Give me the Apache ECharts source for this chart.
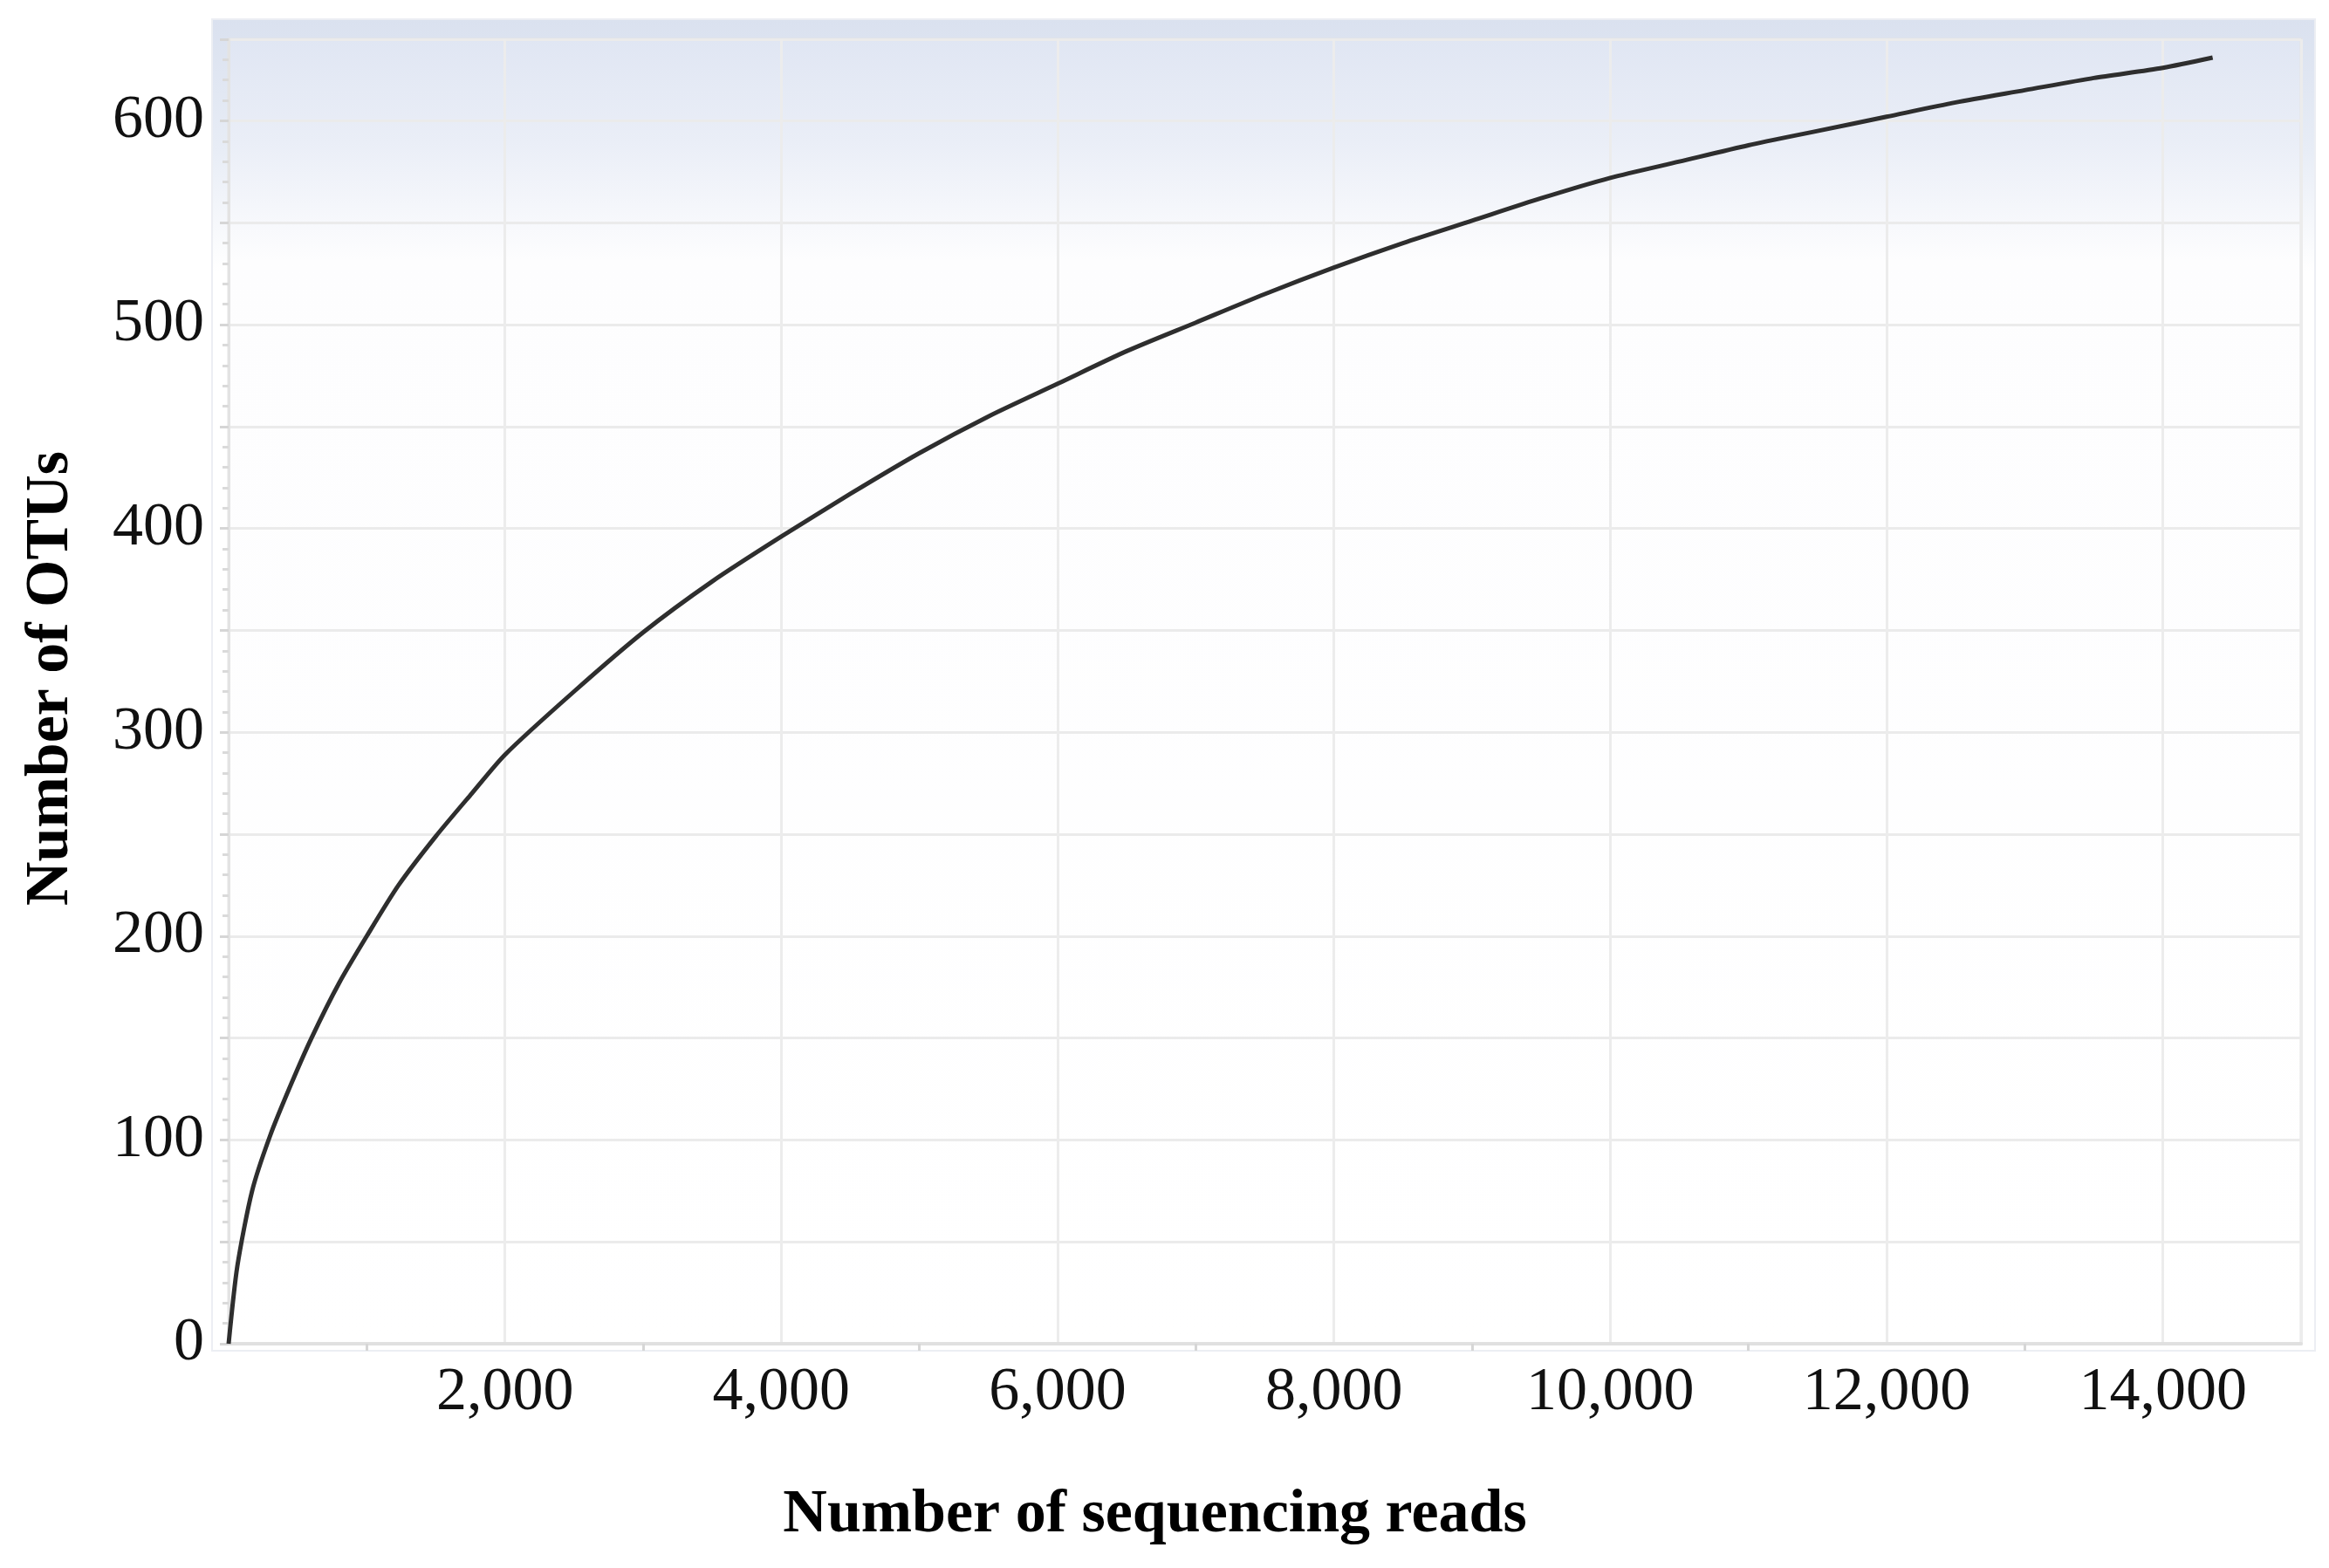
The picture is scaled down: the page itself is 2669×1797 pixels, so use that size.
<!DOCTYPE html>
<html>
<head>
<meta charset="utf-8">
<title>Rarefaction curve</title>
<script src="https://cdn.jsdelivr.net/npm/echarts@6/dist/echarts.min.js"></script>
<style>
  html, body { margin: 0; padding: 0; background: #fff; }
  #chart { width: 2669px; height: 1797px; }
</style>
</head>
<body>
<div id="chart"></div>
<script>
// values
var reads = [0, 63, 170, 300, 450, 600, 800, 1000, 1230, 1500, 1760, 2000, 2500, 3000, 3500,
  4000, 4500, 5000, 5500, 6000, 6500, 7000, 7500, 8000, 8500, 9000, 9500, 10000, 10500,
  11000, 11500, 12000, 12500, 13000, 13500, 14000, 14360];
var otus = [0, 38, 75, 102, 127, 150, 177, 200, 225, 249, 270, 289, 320, 349, 374,
  396, 417, 437, 455, 471, 487, 501, 515, 528, 540, 551, 562, 572, 580,
  588, 595, 602, 609, 615, 621, 626, 631];

var xTitle = 'Number of sequencing reads';
var yTitle = 'Number of OTUs';

var serif = 'Liberation Serif';
var chart = echarts.init(document.getElementById('chart'));

var points = reads.map(function (r, i) { return [r, otus[i]]; });

chart.setOption({
  animation: false,
  backgroundColor: '#ffffff',
  graphic: [
    {
      // outer panel behind the plot
      type: 'rect',
      z: -10,
      silent: true,
      shape: { x: 243, y: 22, width: 2410, height: 1526 },
      style: {
        fill: {
          type: 'linear', x: 0, y: 0, x2: 0, y2: 1,
          colorStops: [
            { offset: 0, color: '#dae1ef' },
            { offset: 0.1, color: '#e8edf6' },
            { offset: 0.19, color: '#ffffff' },
            { offset: 1, color: '#ffffff' }
          ]
        },
        stroke: '#eceef3',
        lineWidth: 2
      }
    }
  ],
  grid: {
    left: 262,
    right: 32,
    top: 45,
    bottom: 257,
    show: true,
    borderColor: '#e3e3e3',
    borderWidth: 3,
    backgroundColor: {
      type: 'linear', x: 0, y: 0, x2: 0, y2: 1,
      colorStops: [
        { offset: 0, color: '#e0e6f3' },
        { offset: 0.08, color: '#eaeef7' },
        { offset: 0.17, color: '#fdfdfe' },
        { offset: 1, color: '#ffffff' }
      ]
    }
  },
  xAxis: {
    type: 'value',
    min: 0,
    max: 15000,
    interval: 2000,
    name: xTitle,
    nameLocation: 'middle',
    nameGap: 162,
    nameTextStyle: {
      fontFamily: serif,
      fontWeight: 'bold',
      fontSize: 70,
      color: '#000',
      padding: [0, 252, 0, 0]
    },
    axisLine: { show: true, lineStyle: { color: '#e0e0e0', width: 4 } },
    axisTick: { show: false },
    minorTick: { show: true, splitNumber: 2, length: 8, lineStyle: { color: '#d6d6d6', width: 3 } },
    splitLine: { show: true, lineStyle: { color: '#ececec', width: 3 } },
    axisLabel: {
      margin: 22,
      fontFamily: serif,
      fontSize: 70,
      color: '#111',
      formatter: function (v) {
        if (v === 0 || v % 2000 !== 0) return '';
        return v.toLocaleString('en-US');
      }
    }
  },
  yAxis: {
    type: 'value',
    min: 0,
    max: 640,
    interval: 50,
    name: yTitle,
    nameLocation: 'middle',
    nameGap: 168,
    nameRotate: 90,
    nameTextStyle: {
      fontFamily: serif,
      fontWeight: 'bold',
      fontSize: 70,
      color: '#000',
      padding: [0, 0, 0, 30]
    },
    axisLine: { show: true, lineStyle: { color: '#e3e3e3', width: 3 } },
    axisTick: { show: true, length: 10, lineStyle: { color: '#d6d6d6', width: 3 } },
    minorTick: { show: true, splitNumber: 5, length: 7, lineStyle: { color: '#dadada', width: 3 } },
    splitLine: { show: true, lineStyle: { color: '#ebebeb', width: 3 } },
    axisLabel: {
      margin: 28,
      fontFamily: serif,
      fontSize: 70,
      color: '#111',
      formatter: function (v) {
        return v % 100 === 0 ? String(v) : '';
      }
    }
  },
  series: [
    {
      type: 'line',
      data: points,
      showSymbol: false,
      smooth: 0.25,
      lineStyle: { color: '#2e2e2e', width: 5 }
    }
  ]
});
</script>
</body>
</html>
